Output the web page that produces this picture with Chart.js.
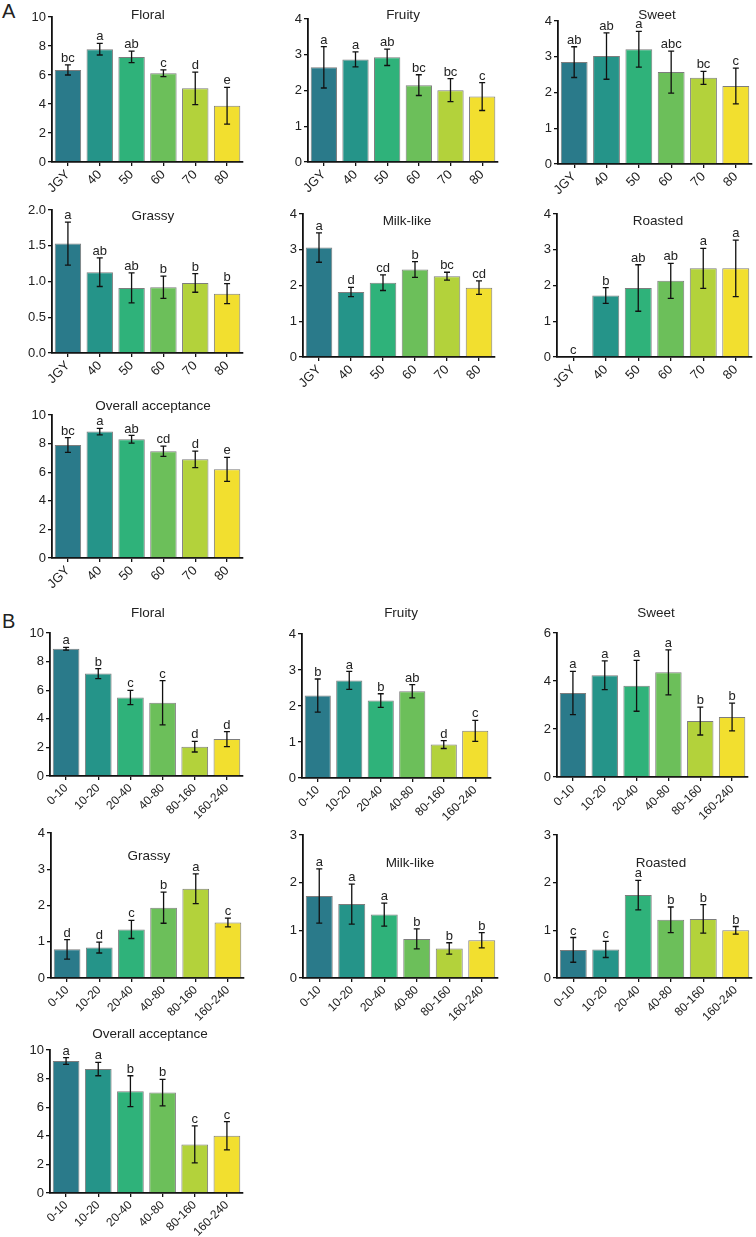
<!DOCTYPE html>
<html>
<head>
<meta charset="utf-8">
<script src="https://cdn.jsdelivr.net/npm/chart.js@4.4.1/dist/chart.umd.min.js"></script>
<style>
  body { margin: 0; background: #fff; }
  #page { position: relative; width: 756px; height: 1237px; overflow: hidden; font-family: "Liberation Sans", Arial, sans-serif; }
  #page canvas { position: absolute; }
  .ttl { position: absolute; font-size: 13.5px; color: #222; transform: translate(-50%, -50%); white-space: nowrap; }
  .pl { position: absolute; font-size: 20px; color: #222; }
</style>
</head>
<body>
<div id="page">
  <div class="pl" style="left:2px;top:0px">A</div>
  <div class="pl" style="left:2px;top:610px">B</div>
</div>
<script>
// categories
const groupsA = ['JGY', '40', '50', '60', '70', '80'];
const groupsB = ['0-10', '10-20', '20-40', '40-80', '80-160', '160-240'];

const barColors = ['#2a7a8a', '#259489', '#2fb27a', '#6cbf5a', '#b3d23b', '#f2df2f'];

// panel A
const floralA = [6.35, 7.78, 7.25, 6.12, 5.08, 3.88];
const floralAErr = [0.35, 0.4, 0.4, 0.23, 1.12, 1.27];
const floralALet = ['bc', 'a', 'ab', 'c', 'd', 'e'];

const fruityA = [2.65, 2.87, 2.93, 2.15, 2.01, 1.83];
const fruityAErr = [0.58, 0.21, 0.23, 0.29, 0.32, 0.39];
const fruityALet = ['a', 'a', 'ab', 'bc', 'bc', 'c'];

const sweetA = [2.85, 3.02, 3.21, 2.57, 2.41, 2.18];
const sweetAErr = [0.43, 0.65, 0.5, 0.59, 0.18, 0.5];
const sweetALet = ['ab', 'ab', 'a', 'abc', 'bc', 'c'];

const grassyA = [1.53, 1.13, 0.91, 0.92, 0.98, 0.83];
const grassyAErr = [0.3, 0.2, 0.21, 0.155, 0.13, 0.14];
const grassyALet = ['a', 'ab', 'ab', 'b', 'b', 'b'];

const milkA = [3.06, 1.82, 2.08, 2.45, 2.26, 1.94];
const milkAErr = [0.41, 0.13, 0.22, 0.22, 0.11, 0.19];
const milkALet = ['a', 'd', 'cd', 'b', 'bc', 'cd'];

const roastedA = [0, 1.72, 1.93, 2.13, 2.48, 2.48];
const roastedAErr = [0, 0.22, 0.65, 0.49, 0.56, 0.79];
const roastedALet = ['c', 'b', 'ab', 'ab', 'a', 'a'];

const overallA = [7.9, 8.84, 8.3, 7.47, 6.9, 6.2];
const overallAErr = [0.52, 0.23, 0.27, 0.36, 0.58, 0.84];
const overallALet = ['bc', 'a', 'ab', 'cd', 'd', 'e'];

// panel B
const floralB = [8.9, 7.16, 5.49, 5.12, 2.05, 2.58];
const floralBErr = [0.1, 0.35, 0.5, 1.55, 0.37, 0.52];
const floralBLet = ['a', 'b', 'c', 'c', 'd', 'd'];

const fruityB = [2.29, 2.71, 2.15, 2.41, 0.93, 1.31];
const fruityBErr = [0.46, 0.25, 0.19, 0.185, 0.11, 0.29];
const fruityBLet = ['b', 'a', 'b', 'ab', 'd', 'c'];

const sweetB = [3.5, 4.24, 3.8, 4.36, 2.33, 2.5];
const sweetBErr = [0.9, 0.6, 1.06, 0.94, 0.58, 0.58];
const sweetBLet = ['a', 'a', 'a', 'a', 'b', 'b'];

const grassyB = [0.79, 0.84, 1.34, 1.94, 2.46, 1.53];
const grassyBErr = [0.27, 0.15, 0.25, 0.43, 0.41, 0.12];
const grassyBLet = ['d', 'd', 'c', 'b', 'a', 'c'];

const milkB = [1.72, 1.55, 1.33, 0.82, 0.62, 0.79];
const milkBErr = [0.57, 0.42, 0.24, 0.21, 0.12, 0.16];
const milkBLet = ['a', 'a', 'a', 'b', 'b', 'b'];

const roastedB = [0.59, 0.6, 1.74, 1.22, 1.24, 1.0];
const roastedBErr = [0.26, 0.17, 0.31, 0.27, 0.3, 0.08];
const roastedBLet = ['c', 'c', 'a', 'b', 'b', 'b'];

const overallB = [9.23, 8.67, 7.12, 7.02, 3.4, 4.0];
const overallBErr = [0.23, 0.47, 1.08, 0.93, 1.3, 0.99];
const overallBLet = ['a', 'a', 'b', 'b', 'c', 'c'];

// where each small chart sits: plot box (left, right, top, bottom) and title centre
const panels = [
  { name: 'Floral', cats: groupsA, vals: floralA, err: floralAErr, let: floralALet, max: 10, step: 2, box: [52, 243, 17, 162], t: [148, 14] },
  { name: 'Fruity', cats: groupsA, vals: fruityA, err: fruityAErr, let: fruityALet, max: 4, step: 1, box: [308, 498, 19, 162], t: [403, 14] },
  { name: 'Sweet', cats: groupsA, vals: sweetA, err: sweetAErr, let: sweetALet, max: 4, step: 1, box: [558, 752, 21, 164], t: [657, 14] },
  { name: 'Grassy', cats: groupsA, vals: grassyA, err: grassyAErr, let: grassyALet, max: 2, step: 0.5, dec: 1, box: [52, 243, 210, 353], t: [153, 215] },
  { name: 'Milk-like', cats: groupsA, vals: milkA, err: milkAErr, let: milkALet, max: 4, step: 1, box: [303, 495, 214, 357], t: [407, 220] },
  { name: 'Roasted', cats: groupsA, vals: roastedA, err: roastedAErr, let: roastedALet, max: 4, step: 1, box: [557, 752, 214, 357], t: [658, 220] },
  { name: 'Overall acceptance', cats: groupsA, vals: overallA, err: overallAErr, let: overallALet, max: 10, step: 2, box: [52, 243, 415, 558], t: [153, 405] },
  { name: 'Floral', cats: groupsB, vals: floralB, err: floralBErr, let: floralBLet, max: 10, step: 2, box: [50, 243, 633, 776], t: [148, 612] },
  { name: 'Fruity', cats: groupsB, vals: fruityB, err: fruityBErr, let: fruityBLet, max: 4, step: 1, box: [302, 491, 634, 778], t: [401, 612] },
  { name: 'Sweet', cats: groupsB, vals: sweetB, err: sweetBErr, let: sweetBLet, max: 6, step: 2, box: [557, 748, 633, 777], t: [656, 612] },
  { name: 'Grassy', cats: groupsB, vals: grassyB, err: grassyBErr, let: grassyBLet, max: 4, step: 1, box: [51, 244, 833, 978], t: [149, 855] },
  { name: 'Milk-like', cats: groupsB, vals: milkB, err: milkBErr, let: milkBLet, max: 3, step: 1, box: [303, 498, 835, 978], t: [410, 862] },
  { name: 'Roasted', cats: groupsB, vals: roastedB, err: roastedBErr, let: roastedBLet, max: 3, step: 1, box: [557, 752, 835, 978], t: [661, 862] },
  { name: 'Overall acceptance', cats: groupsB, vals: overallB, err: overallBErr, let: overallBLet, max: 10, step: 2, box: [50, 243, 1050, 1193], t: [150, 1033] }
];

const FONT = '"Liberation Sans", Arial, sans-serif';
const PAD_L = 42, PAD_T = 16, PAD_R = 8, PAD_B = 52;

// error bars + significance letters
const errorBars = {
  id: 'errorBars',
  afterDatasetsDraw(chart) {
    const ctx = chart.ctx;
    const ds = chart.data.datasets[0];
    const meta = chart.getDatasetMeta(0);
    const y = chart.scales.y;
    ctx.save();
    ctx.strokeStyle = '#111';
    ctx.lineWidth = 1.3;
    ctx.fillStyle = '#222';
    ctx.font = '13px ' + FONT;
    ctx.textAlign = 'center';
    ctx.textBaseline = 'bottom';
    meta.data.forEach((bar, i) => {
      const v = ds.data[i], e = ds.err[i];
      const x = bar.x;
      const top = y.getPixelForValue(v + e);
      if (e > 0) {
        const bot = y.getPixelForValue(v - e);
        ctx.beginPath();
        ctx.moveTo(x, top); ctx.lineTo(x, bot);
        ctx.moveTo(x - 3, top); ctx.lineTo(x + 3, top);
        ctx.moveTo(x - 3, bot); ctx.lineTo(x + 3, bot);
        ctx.stroke();
      }
      ctx.fillText(ds.letters[i], x, top);
    });
    ctx.restore();
  }
};

const page = document.getElementById('page');

panels.forEach((p) => {
  const [L, R, T, B] = p.box;
  const cv = document.createElement('canvas');
  const w = R - L + PAD_L + PAD_R;
  const h = B - T + PAD_T + PAD_B;
  cv.width = w; cv.height = h;
  cv.style.left = (L - PAD_L) + 'px';
  cv.style.top = (T - PAD_T) + 'px';
  cv.style.width = w + 'px';
  cv.style.height = h + 'px';
  page.appendChild(cv);

  const ttl = document.createElement('div');
  ttl.className = 'ttl';
  ttl.textContent = p.name;
  ttl.style.left = p.t[0] + 'px';
  ttl.style.top = p.t[1] + 'px';
  page.appendChild(ttl);

  new Chart(cv.getContext('2d'), {
    type: 'bar',
    data: {
      labels: p.cats,
      datasets: [{
        data: p.vals,
        err: p.err,
        letters: p.let,
        backgroundColor: barColors,
        borderColor: 'rgba(70,70,70,0.7)',
        borderWidth: 1,
        barPercentage: 0.83,
        categoryPercentage: 1
      }]
    },
    options: {
      responsive: false,
      animation: false,
      layout: { padding: { left: 0, right: PAD_R, top: PAD_T, bottom: 0 } },
      plugins: { legend: { display: false }, tooltip: { enabled: false } },
      scales: {
        x: {
          offset: true,
          grid: { display: true, drawOnChartArea: false, offset: false, tickLength: 4, color: '#111', lineWidth: 1.3 },
          border: { display: true, color: '#111', width: 1.8 },
          ticks: { minRotation: 45, maxRotation: 45, padding: 1, color: '#222', font: { family: FONT, size: p.cats === groupsA ? 13 : 12 } },
          afterFit(s) { s.height = PAD_B; }
        },
        y: {
          min: 0,
          max: p.max,
          grid: { display: true, drawOnChartArea: false, tickLength: 4, color: '#111', lineWidth: 1.3 },
          border: { display: true, color: '#111', width: 1.8 },
          ticks: {
            stepSize: p.step,
            padding: 2,
            color: '#222',
            font: { family: FONT, size: 13 },
            callback: (v) => p.dec ? v.toFixed(p.dec) : v
          },
          afterFit(s) { s.width = PAD_L; }
        }
      }
    },
    plugins: [errorBars]
  });
});
</script>
</body>
</html>
